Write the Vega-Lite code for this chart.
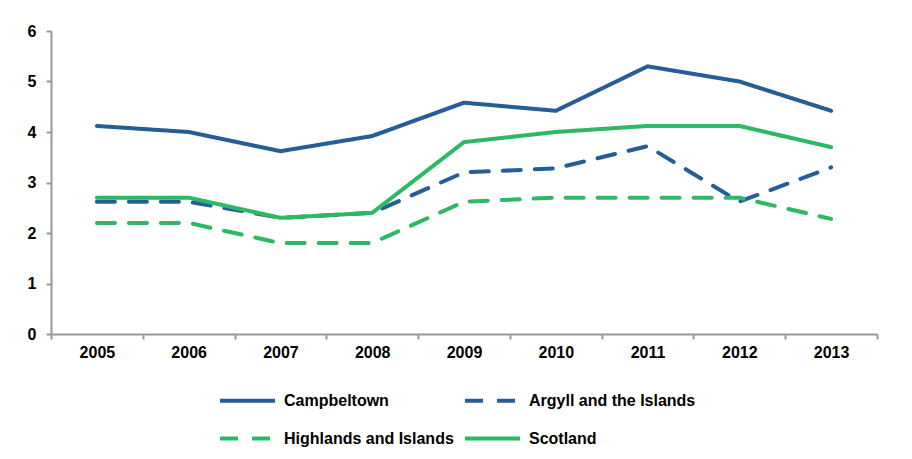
{
  "$schema": "https://vega.github.io/schema/vega-lite/v6.json",
  "width": 826,
  "height": 303,
  "autosize": {"type": "none"},
  "padding": {"left": 51, "top": 31, "right": 35, "bottom": 125},
  "background": "white",
  "config": {
    "view": {"stroke": null},
    "font": "Liberation Sans"
  },
  "data": {
    "values": [
      {"year": "2005", "series": "Campbeltown", "value": 4.12},
      {"year": "2006", "series": "Campbeltown", "value": 4.0},
      {"year": "2007", "series": "Campbeltown", "value": 3.62},
      {"year": "2008", "series": "Campbeltown", "value": 3.92},
      {"year": "2009", "series": "Campbeltown", "value": 4.58},
      {"year": "2010", "series": "Campbeltown", "value": 4.42},
      {"year": "2011", "series": "Campbeltown", "value": 5.3},
      {"year": "2012", "series": "Campbeltown", "value": 5.0},
      {"year": "2013", "series": "Campbeltown", "value": 4.42},
      {"year": "2005", "series": "Argyll and the Islands", "value": 2.62},
      {"year": "2006", "series": "Argyll and the Islands", "value": 2.62},
      {"year": "2007", "series": "Argyll and the Islands", "value": 2.3},
      {"year": "2008", "series": "Argyll and the Islands", "value": 2.4},
      {"year": "2009", "series": "Argyll and the Islands", "value": 3.2},
      {"year": "2010", "series": "Argyll and the Islands", "value": 3.28},
      {"year": "2011", "series": "Argyll and the Islands", "value": 3.72},
      {"year": "2012", "series": "Argyll and the Islands", "value": 2.62},
      {"year": "2013", "series": "Argyll and the Islands", "value": 3.3},
      {"year": "2005", "series": "Highlands and Islands", "value": 2.2},
      {"year": "2006", "series": "Highlands and Islands", "value": 2.2},
      {"year": "2007", "series": "Highlands and Islands", "value": 1.8},
      {"year": "2008", "series": "Highlands and Islands", "value": 1.8},
      {"year": "2009", "series": "Highlands and Islands", "value": 2.62},
      {"year": "2010", "series": "Highlands and Islands", "value": 2.7},
      {"year": "2011", "series": "Highlands and Islands", "value": 2.7},
      {"year": "2012", "series": "Highlands and Islands", "value": 2.7},
      {"year": "2013", "series": "Highlands and Islands", "value": 2.28},
      {"year": "2005", "series": "Scotland", "value": 2.7},
      {"year": "2006", "series": "Scotland", "value": 2.7},
      {"year": "2007", "series": "Scotland", "value": 2.3},
      {"year": "2008", "series": "Scotland", "value": 2.4},
      {"year": "2009", "series": "Scotland", "value": 3.8},
      {"year": "2010", "series": "Scotland", "value": 4.0},
      {"year": "2011", "series": "Scotland", "value": 4.12},
      {"year": "2012", "series": "Scotland", "value": 4.12},
      {"year": "2013", "series": "Scotland", "value": 3.7}
    ]
  },
  "mark": {"type": "line", "strokeWidth": 4, "strokeCap": "round", "strokeJoin": "round"},
  "encoding": {
    "x": {
      "field": "year", "type": "ordinal",
      "scale": {"paddingInner": 0, "paddingOuter": 0},
      "axis": {
        "title": null, "labelAngle": 0, "tickBand": "extent",
        "domainColor": "#999999", "domainWidth": 2, "tickColor": "#999999", "tickWidth": 2, "tickSize": 5,
        "labelFont": "Liberation Sans", "labelFontWeight": "bold", "labelFontSize": 16, "labelColor": "#000000",
        "labelPadding": 5, "grid": false
      }
    },
    "y": {
      "field": "value", "type": "quantitative",
      "scale": {"domain": [0, 6]},
      "axis": {
        "title": null, "values": [0, 1, 2, 3, 4, 5, 6], "format": "d",
        "domainColor": "#999999", "domainWidth": 2, "tickColor": "#999999", "tickWidth": 2, "tickSize": 5,
        "labelFont": "Liberation Sans", "labelFontWeight": "bold", "labelFontSize": 16, "labelColor": "#000000",
        "labelPadding": 10, "grid": false
      }
    },
    "color": {
      "field": "series", "type": "nominal",
      "scale": {
        "domain": ["Campbeltown", "Argyll and the Islands", "Highlands and Islands", "Scotland"],
        "range": ["#255e96", "#255e96", "#2db863", "#2db863"]
      },
      "legend": {
        "title": null, "orient": "none", "legendX": 167, "legendY": 340, "columns": 2, "direction": "horizontal",
        "symbolType": "stroke", "symbolSize": 3025, "symbolStrokeWidth": 4,
        "labelFont": "Liberation Sans", "labelFontWeight": "bold", "labelFontSize": 16, "labelColor": "#000000",
        "labelOffset": 7, "rowPadding": -30, "columnPadding": 3, "labelLimit": 300
      }
    },
    "strokeDash": {
      "field": "series", "type": "nominal",
      "scale": {
        "domain": ["Campbeltown", "Argyll and the Islands", "Highlands and Islands", "Scotland"],
        "range": [[1, 0], [18, 14], [18, 14], [1, 0]]
      },
      "legend": null
    }
  }
}
